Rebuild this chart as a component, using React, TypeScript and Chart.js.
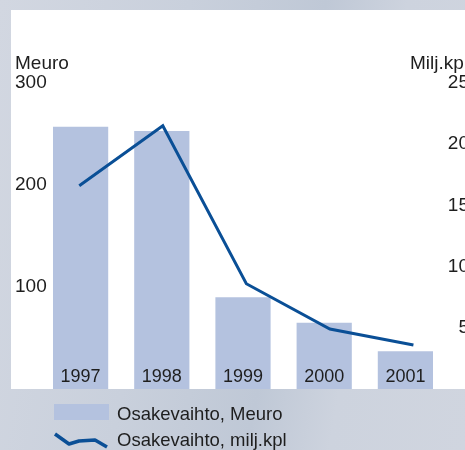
import React, { useEffect, useRef } from "react";
import { Chart, registerables } from "chart.js";

Chart.register(...registerables);

const categories = ["1997", "1998", "1999", "2000", "2001"];
const meuroValues = [257, 253, 90, 65, 37];
const kplValues = [16.6, 21.5, 8.6, 4.9, 3.6];
const leftTicks = [100, 200, 300];
const rightTicks = [5, 10, 15, 20, 25];
const leftTitle = "Meuro";
const rightTitle = "Milj.kpl";
const barLabel = "Osakevaihto, Meuro";
const lineLabel = "Osakevaihto, milj.kpl";

const BAR_COLOR = "#b4c2df";
const LINE_COLOR = "#0a4f96";
const TEXT_COLOR = "#1e1e1e";
const FONT = "Arial, 'Liberation Sans', sans-serif";

const overlayPlugin = {
  id: "overlay",
  afterDatasetsDraw(chart: any) {
    const { ctx, chartArea, scales } = chart;
    ctx.save();
    ctx.fillStyle = TEXT_COLOR;
    ctx.font = `19px ${FONT}`;
    ctx.textBaseline = "alphabetic";
    ctx.textAlign = "left";
    ctx.fillText(leftTitle, 15, 69);
    ctx.textAlign = "right";
    ctx.fillText(rightTitle, scales.y1.right - 1, 69);
    ctx.font = `18px ${FONT}`;
    ctx.textAlign = "center";
    categories.forEach((c, i) => {
      ctx.fillText(c, scales.x.getPixelForTick(i), chartArea.bottom - 7);
    });
    ctx.fillStyle = BAR_COLOR;
    ctx.fillRect(54, 404, 55, 16);
    ctx.strokeStyle = LINE_COLOR;
    ctx.lineWidth = 3.5;
    ctx.lineJoin = "round";
    ctx.beginPath();
    ctx.moveTo(55, 434);
    ctx.lineTo(69, 444);
    ctx.lineTo(79, 441);
    ctx.lineTo(95, 440);
    ctx.lineTo(107, 447);
    ctx.stroke();
    ctx.fillStyle = TEXT_COLOR;
    ctx.font = `18.5px ${FONT}`;
    ctx.textAlign = "left";
    ctx.fillText(barLabel, 117, 420);
    ctx.fillText(lineLabel, 117, 446);
    ctx.restore();
  },
};

export default function App() {
  const ref = useRef<HTMLCanvasElement | null>(null);
  useEffect(() => {
    if (!ref.current) return;
    const chart = new Chart(ref.current, {
      type: "bar",
      data: {
        labels: categories,
        datasets: [
          {
            type: "line",
            label: lineLabel,
            data: kplValues.map((v, i) => ({ x: i, y: v })),
            xAxisID: "x2",
            yAxisID: "y1",
            borderColor: LINE_COLOR,
            borderWidth: 3,
            pointRadius: 0,
            tension: 0,
            order: 0,
          } as any,
          {
            type: "bar",
            label: barLabel,
            data: meuroValues,
            xAxisID: "x",
            yAxisID: "y",
            backgroundColor: BAR_COLOR,
            borderWidth: 0,
            grouped: false,
            barPercentage: 0.68,
            categoryPercentage: 1,
            order: 1,
          } as any,
        ],
      },
      options: {
        responsive: false,
        animation: false,
        devicePixelRatio: 1,
        layout: { padding: { left: 40, right: 11, top: 83, bottom: 61 } },
        plugins: { legend: { display: false }, tooltip: { enabled: false } },
        scales: {
          x: { type: "category", display: false },
          x2: { type: "linear", display: false, offset: false, min: -0.47, max: 4.39 },
          y: {
            position: "left",
            min: 0,
            max: 300,
            afterBuildTicks: (s: any) => {
              s.ticks = leftTicks.map((v) => ({ value: v }));
            },
            afterFit: (s: any) => {
              s.width = 0;
            },
            grid: { display: false, drawTicks: false },
            border: { display: false },
            ticks: {
              mirror: true,
              padding: -25,
              color: TEXT_COLOR,
              font: { family: FONT, size: 19 },
            },
          },
          y1: {
            position: "right",
            min: 0,
            max: 25,
            afterBuildTicks: (s: any) => {
              s.ticks = rightTicks.map((v) => ({ value: v }));
            },
            afterFit: (s: any) => {
              s.width = 23;
            },
            grid: { display: false, drawTicks: false },
            border: { display: false },
            ticks: {
              crossAlign: "far",
              padding: 0,
              color: TEXT_COLOR,
              font: { family: FONT, size: 19 },
            },
          },
        },
      } as any,
      plugins: [overlayPlugin],
    });
    return () => chart.destroy();
  }, []);

  return (
    <div
      style={{
        position: "absolute",
        left: 0,
        top: 0,
        width: 465,
        height: 450,
        overflow: "hidden",
        background:
          "linear-gradient(100deg, #d2d7e1 0%, #c9d0dc 35%, #bfc8d6 60%, #cdd3de 75%, #d0d5df 100%)",
      }}
    >
      <div
        style={{
          position: "absolute",
          left: 11,
          top: 10,
          width: 470,
          height: 379,
          background: "#ffffff",
        }}
      />
      <canvas
        ref={ref}
        width={480}
        height={450}
        style={{ position: "absolute", left: 0, top: 0, width: 480, height: 450 }}
      />
    </div>
  );
}
